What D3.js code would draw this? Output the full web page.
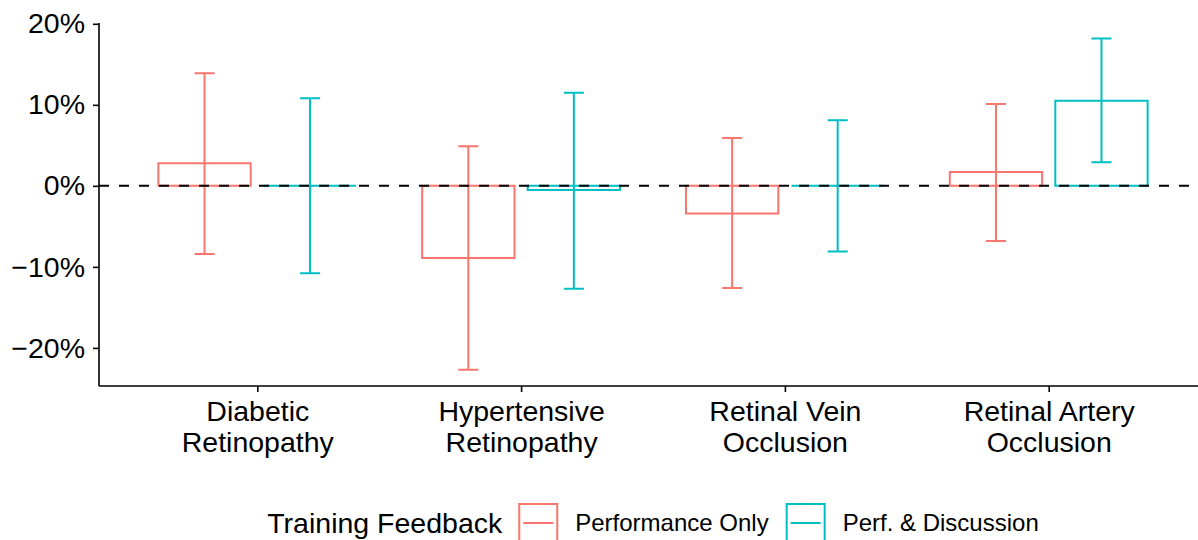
<!DOCTYPE html>
<html>
<head>
<meta charset="utf-8">
<script src="https://cdn.jsdelivr.net/npm/d3@7"></script>
<style>
  html, body { margin: 0; padding: 0; background: #fff; }
  svg { display: block; font-family: "Liberation Sans", Arial, sans-serif; }
</style>
</head>
<body>
<svg id="chart" width="1198" height="540"></svg>
<script>
// categories, shown on two lines
const categories = ['Diabetic Retinopathy', 'Hypertensive Retinopathy', 'Retinal Vein Occlusion', 'Retinal Artery Occlusion']
const categoryLines = [['Diabetic', 'Retinopathy'], ['Hypertensive', 'Retinopathy'], ['Retinal Vein', 'Occlusion'], ['Retinal Artery', 'Occlusion']]

const groups = ['Performance Only', 'Perf. & Discussion']
const groupColors = ['#F8766D', '#00BFC4']

// percent change, with lower and upper interval bounds
const perfOnlyValue = [2.8, -8.9, -3.4, 1.7]
const perfOnlyLow = [-8.4, -22.7, -12.6, -6.8]
const perfOnlyHigh = [13.9, 4.9, 5.9, 10.1]

const perfDiscValue = [0, -0.5, 0, 10.5]
const perfDiscLow = [-10.8, -12.7, -8.1, 2.9]
const perfDiscHigh = [10.8, 11.5, 8.1, 18.2]

const yTicks = [-20, -10, 0, 10, 20]

const rows = []
categories.forEach((c, i) => {
  rows.push({ cat: c, group: groups[0], value: perfOnlyValue[i], low: perfOnlyLow[i], high: perfOnlyHigh[i] })
  rows.push({ cat: c, group: groups[1], value: perfDiscValue[i], low: perfDiscLow[i], high: perfDiscHigh[i] })
})

const color = d3.scaleOrdinal().domain(groups).range(groupColors)

const svg = d3.select('#chart')
const panelLeft = 99
const panelRight = 1207
const panelTop = 23
const panelBottom = 386
const lw = 2

const x = d3.scalePoint().domain(categories).range([panelLeft, panelRight]).padding(0.6)
const step = x.step()
const dodge = d3.scaleBand().domain(groups).range([-0.4 * step, 0.4 * step])
const barW = 0.35 * step
const capW = 0.076 * step

const y = d3.scaleLinear().domain([-24.7, 20.1]).range([panelBottom, panelTop])

const cx = d => x(d.cat) + dodge(d.group) + dodge.bandwidth() / 2

// bars (paths so that zero-height bars still show)
svg.append('g')
  .selectAll('path')
  .data(rows)
  .join('path')
  .attr('d', d => {
    const x0 = cx(d) - barW / 2
    const x1 = cx(d) + barW / 2
    return `M${x0},${y(0)}V${y(d.value)}H${x1}V${y(0)}Z`
  })
  .attr('fill', 'none')
  .attr('stroke', d => color(d.group))
  .attr('stroke-width', lw)

// error bars
svg.append('g')
  .attr('fill', 'none')
  .attr('stroke-width', lw)
  .selectAll('path')
  .data(rows)
  .join('path')
  .attr('stroke', d => color(d.group))
  .attr('d', d => {
    const c = cx(d)
    return `M${c - capW / 2},${y(d.high)}H${c + capW / 2}M${c},${y(d.high)}V${y(d.low)}M${c - capW / 2},${y(d.low)}H${c + capW / 2}`
  })

// zero reference line
svg.append('line')
  .attr('x1', panelLeft)
  .attr('x2', panelRight)
  .attr('y1', y(0))
  .attr('y2', y(0))
  .attr('stroke', '#000')
  .attr('stroke-width', lw)
  .attr('stroke-dasharray', '10,10')

// y axis
const yAxis = svg.append('g')
  .attr('transform', `translate(${panelLeft},0)`)
  .call(d3.axisLeft(y).tickValues(yTicks).tickSize(6).tickPadding(8)
    .tickFormat(d => (d < 0 ? '\u2212' + Math.abs(d) : d) + '%'))
yAxis.select('.domain').attr('d', `M0,${panelTop}V${panelBottom}`).attr('stroke-width', 1.6)
yAxis.selectAll('.tick line').attr('stroke-width', 1.6)
yAxis.selectAll('.tick text').attr('font-size', 28.5).attr('fill', '#000')
  .attr('font-family', '"Liberation Sans", Arial, sans-serif')

// x axis
const xAxis = svg.append('g')
  .attr('transform', `translate(0,${panelBottom})`)
  .call(d3.axisBottom(x).tickSize(6).tickFormat(''))
xAxis.select('.domain').attr('d', `M${panelLeft},0H${panelRight}`).attr('stroke-width', 1.6)
xAxis.selectAll('.tick line').attr('stroke-width', 1.6)

xAxis.selectAll('.tick').each(function (d, i) {
  const t = d3.select(this).append('text')
    .attr('fill', '#000')
    .attr('font-size', 28.5)
    .attr('text-anchor', 'middle')
    .attr('font-family', '"Liberation Sans", Arial, sans-serif')
  categoryLines[i].forEach((line, j) => {
    t.append('tspan').attr('x', 0).attr('y', 35 + j * 31).text(line)
  })
})

// legend
const legend = svg.append('g')
const legendY = 523
const keySize = 40

const title = legend.append('text')
  .attr('y', legendY + 10)
  .attr('font-size', 28.5)
  .text('Training Feedback')

let pos = title.node().getComputedTextLength() + 16
groups.forEach((g, i) => {
  const k = legend.append('g').attr('transform', `translate(${pos},${legendY - keySize / 2})`)
  k.append('rect')
    .attr('x', 1).attr('y', 1)
    .attr('width', keySize - 2).attr('height', keySize - 2)
    .attr('fill', 'none').attr('stroke', color(g)).attr('stroke-width', lw)
  k.append('line')
    .attr('x1', 5).attr('x2', keySize - 5)
    .attr('y1', keySize / 2).attr('y2', keySize / 2)
    .attr('stroke', color(g)).attr('stroke-width', lw)
  pos += keySize + 17
  const lab = legend.append('text')
    .attr('x', pos)
    .attr('y', legendY + 8)
    .attr('font-size', 24)
    .text(g)
  pos += lab.node().getComputedTextLength() + (i < groups.length - 1 ? 17 : 0)
})
const legendCenter = (panelLeft + panelRight) / 2
legend.attr('transform', `translate(${legendCenter - pos / 2},0)`)
</script>
</body>
</html>
